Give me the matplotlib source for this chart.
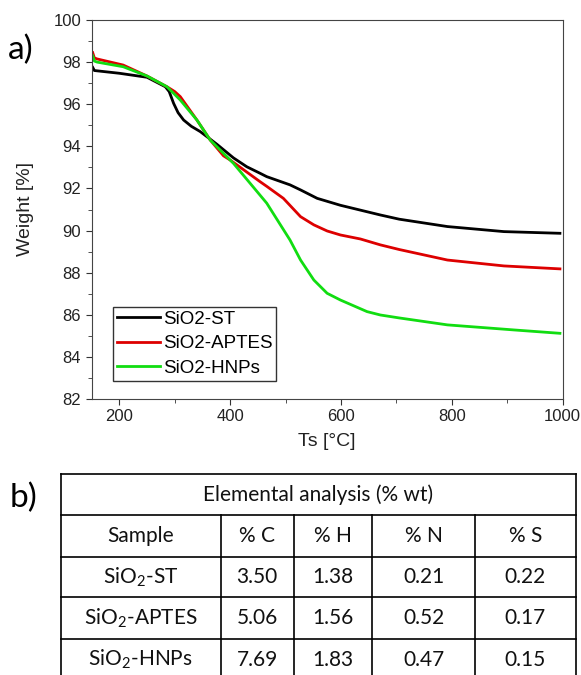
import matplotlib
matplotlib.use('Agg')
import matplotlib.pyplot as plt
from matplotlib.ticker import MultipleLocator

# TGA curves
black_x = [152, 155, 200, 250, 283, 290, 298, 306, 316, 330, 346, 376, 406, 430, 454, 466, 508, 527, 557, 599, 671, 705, 792, 894, 995]
black_y = [97.75, 97.6, 97.47, 97.28, 96.83, 96.6, 96.04, 95.6, 95.25, 94.95, 94.7, 94.1, 93.45, 93.03, 92.72, 92.56, 92.17, 91.93, 91.53, 91.2, 90.74, 90.54, 90.19, 89.95, 89.87]
red_x = [152, 155, 160, 207, 250, 286, 300, 310, 340, 364, 388, 400, 454, 466, 496, 527, 551, 575, 599, 635, 671, 705, 792, 894, 995]
red_y = [98.45, 98.2, 98.15, 97.86, 97.34, 96.83, 96.6, 96.36, 95.25, 94.3, 93.55, 93.35, 92.32, 92.1, 91.53, 90.66, 90.27, 89.98, 89.79, 89.6, 89.32, 89.1, 88.6, 88.32, 88.18]
green_x = [152, 155, 160, 207, 250, 286, 310, 340, 364, 406, 466, 508, 527, 551, 575, 599, 647, 671, 705, 792, 912, 995]
green_y = [98.3, 98.05, 98.0, 97.78, 97.34, 96.83, 96.2, 95.25, 94.3, 93.19, 91.3, 89.55, 88.6, 87.65, 87.02, 86.7, 86.15, 85.99, 85.85, 85.52, 85.28, 85.12]
labels = ['SiO2-ST', 'SiO2-APTES', 'SiO2-HNPs']
colors = ['black', '#dd0000', '#11dd11']

# elemental analysis table
col_names = ['Sample', '% C', '% H', '% N', '% S']
samples = ['SiO$_2$-ST', 'SiO$_2$-APTES', 'SiO$_2$-HNPs']
pc = ['3.50', '5.06', '7.69']
ph = ['1.38', '1.56', '1.83']
pn = ['0.21', '0.52', '0.47']
ps = ['0.22', '0.17', '0.15']

plt.rcParams['font.family'] = ['Liberation Sans', 'DejaVu Sans']
plt.rcParams['mathtext.fontset'] = 'custom'
plt.rcParams['mathtext.rm'] = 'Lato'

fig = plt.figure(figsize=(5.81, 6.75), dpi=100)
W, H = 581, 675
ax = fig.add_axes([91.6/W, 1-399/H, (562.7-91.6)/W, (399-20)/H])

for xs, ys, lab, c in zip([black_x, red_x, green_x], [black_y, red_y, green_y], labels, colors):
    ax.plot(xs, ys, color=c, lw=2, label=lab)

ax.set_xlim(150, 1000)
ax.set_ylim(82, 100)
ax.xaxis.set_major_locator(MultipleLocator(200))
ax.xaxis.set_minor_locator(MultipleLocator(100))
ax.yaxis.set_major_locator(MultipleLocator(2))
ax.yaxis.set_minor_locator(MultipleLocator(1))
ax.tick_params(which='both', direction='out', colors='#333333', labelsize=12, labelcolor='#222222')
ax.tick_params(which='major', length=4)
ax.tick_params(which='minor', length=3)
for s in ax.spines.values():
    s.set_color('#444444')
ax.set_xlabel('Ts [°C]', fontsize=14, color='#222222', labelpad=6)
ax.set_ylabel('Weight [%]', fontsize=14, color='#222222', labelpad=14)

leg = ax.legend(loc='upper left', bbox_to_anchor=(0.046, 0.2435), borderaxespad=0,
                fancybox=False, edgecolor='black', fontsize=13.5, handlelength=2.3,
                handletextpad=0.15, labelspacing=0.4, borderpad=0.2, handleheight=0.7)
leg.get_frame().set_linewidth(1)

fig.text(8/W, 1-50/H, 'a)', fontsize=24, family='Lato', va='center')
fig.text(10/W, 1-498/H, 'b)', fontsize=24, family='Lato', va='center')

# table drawn in pixel coordinates
tx = fig.add_axes([0, 0, 1, 1])
tx.set_xlim(0, W)
tx.set_ylim(H, 0)
tx.axis('off')
cols = [60.7, 220.5, 294, 372.4, 474.6, 576]
rows = [474, 515.3, 556.7, 597.3, 639, 680]
tx.plot([cols[0], cols[-1]], [rows[0], rows[0]], color='black', lw=1.2)
for r in rows[1:5]:
    tx.plot([cols[0], cols[-1]], [r, r], color='black', lw=1.2)
tx.plot([cols[0], cols[0]], [rows[0], H], color='black', lw=1.2)
tx.plot([cols[-1], cols[-1]], [rows[0], H], color='black', lw=1.2)
for cx in cols[1:-1]:
    tx.plot([cx, cx], [rows[1], H], color='black', lw=1.2)

tfont = dict(family='Lato', fontsize=15, ha='center', va='center', color='#111111')
tx.text((cols[0]+cols[-1])/2, (rows[0]+rows[1])/2, 'Elemental analysis (% wt)', **tfont)
for j, name in enumerate(col_names):
    tx.text((cols[j]+cols[j+1])/2, (rows[1]+rows[2])/2, name, **tfont)
for i in range(3):
    vals = [samples[i], pc[i], ph[i], pn[i], ps[i]]
    yc = (rows[i+2]+rows[i+3])/2
    for j, v in enumerate(vals):
        tx.text((cols[j]+cols[j+1])/2, yc, v, **tfont)

fig.savefig('out.png', dpi=100)
